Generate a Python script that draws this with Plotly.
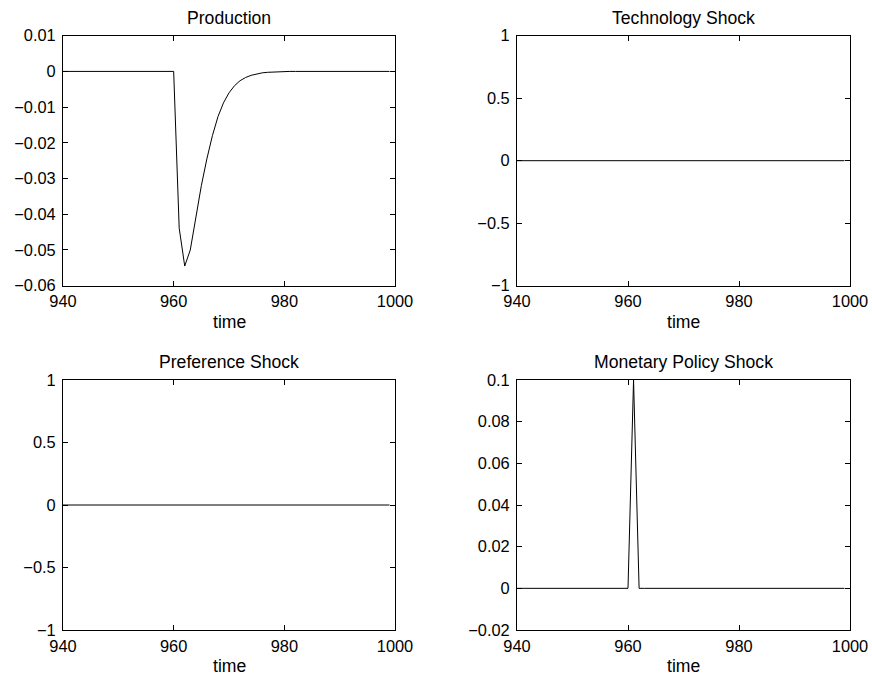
import plotly.graph_objects as go

time = list(range(940, 1000))

production_tail = [-0.0439, -0.0545, -0.0500, -0.0410, -0.0320, -0.0245, -0.0180,
                   -0.0127, -0.0088, -0.0060, -0.0040, -0.0026, -0.0017, -0.0011,
                   -0.0007, -0.0004, -0.00025, -0.00015, -0.0001, -0.00005]
production = [0.0] * 21 + production_tail + [0.0] * (60 - 21 - len(production_tail))
technology = [0.0] * 60
preference = [0.0] * 60
monetary = [0.0] * 21 + [0.1] + [0.0] * 38

titles = ["Production", "Technology Shock", "Preference Shock", "Monetary Policy Shock"]
series = [production, technology, preference, monetary]
yranges = [[-0.06, 0.01], [-1, 1], [-1, 1], [-0.02, 0.1]]
ytickvals = [[-0.06, -0.05, -0.04, -0.03, -0.02, -0.01, 0, 0.01],
             [-1, -0.5, 0, 0.5, 1],
             [-1, -0.5, 0, 0.5, 1],
             [-0.02, 0, 0.02, 0.04, 0.06, 0.08, 0.1]]
yticktext = [["\u22120.06", "\u22120.05", "\u22120.04", "\u22120.03", "\u22120.02", "\u22120.01", "0", "0.01"],
             ["\u22121", "\u22120.5", "0", "0.5", "1"],
             ["\u22121", "\u22120.5", "0", "0.5", "1"],
             ["\u22120.02", "0", "0.02", "0.04", "0.06", "0.08", "0.1"]]
xtickvals = [940, 960, 980, 1000]
xticktext = ["940", "960", "980", "1000"]
xlabel = "time"

W, H = 872, 677
xdoms = [[63 / W, 395 / W], [517 / W, 850 / W], [63 / W, 395 / W], [517 / W, 850 / W]]
ydoms = [[1 - 285.7 / H, 1 - 35.7 / H], [1 - 285.7 / H, 1 - 35.7 / H],
         [1 - 630 / H, 1 - 380 / H], [1 - 630 / H, 1 - 380 / H]]

FONT = "Liberation Sans, Arial, Helvetica, sans-serif"
TICK_SIZE = 16.4
LABEL_SIZE = 17.6
fig = go.Figure()
layout = dict(width=W, height=H, margin=dict(l=0, r=0, t=0, b=0, pad=0),
              paper_bgcolor="white", plot_bgcolor="white", showlegend=False,
              font=dict(family=FONT, size=TICK_SIZE, color="black"))
annotations = []
for i in range(4):
    n = "" if i == 0 else str(i + 1)
    fig.add_trace(go.Scatter(x=time, y=series[i], mode="lines",
                             line=dict(color="black", width=1),
                             xaxis="x" + n, yaxis="y" + n, hoverinfo="skip"))
    axstyle = dict(showgrid=False, zeroline=False, showline=True, linecolor="black",
                   linewidth=1, mirror="ticks", ticks="inside", ticklen=5,
                   tickcolor="black", tickwidth=1, automargin=False,
                   tickfont=dict(family=FONT, size=TICK_SIZE, color="black"))
    layout["xaxis" + n] = dict(axstyle, domain=xdoms[i], range=[940, 1000],
                               tickmode="array", tickvals=xtickvals, ticktext=xticktext,
                               anchor="y" + n, ticklabelstandoff=1)
    layout["yaxis" + n] = dict(axstyle, domain=ydoms[i], range=yranges[i],
                               tickmode="array", tickvals=ytickvals[i], ticktext=yticktext[i],
                               anchor="x" + n, ticklabelstandoff=3)
    xc = (xdoms[i][0] + xdoms[i][1]) / 2
    top_px = H * (1 - ydoms[i][1])
    bot_px = H * (1 - ydoms[i][0])
    annotations.append(dict(text=titles[i], x=xc, y=1 - (top_px - 18) / H,
                            xref="paper", yref="paper", showarrow=False,
                            xanchor="center", yanchor="middle",
                            font=dict(family=FONT, size=LABEL_SIZE, color="black")))
    annotations.append(dict(text=xlabel, x=xc, y=1 - (bot_px + 36) / H,
                            xref="paper", yref="paper", showarrow=False,
                            xanchor="center", yanchor="middle",
                            font=dict(family=FONT, size=LABEL_SIZE, color="black")))
layout["annotations"] = annotations
fig.update_layout(**layout)
fig.write_html("out.html", config={"displayModeBar": False},
               post_script="document.body.style.margin='0';document.body.style.overflow='hidden';")
